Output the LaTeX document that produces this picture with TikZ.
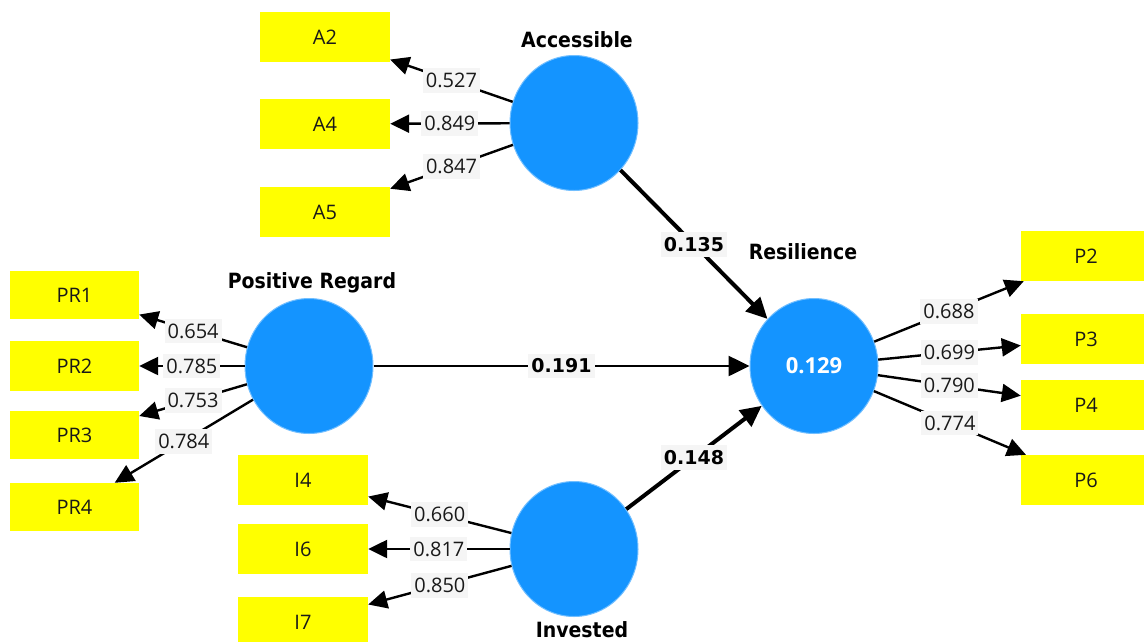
\documentclass[tikz,border=0pt]{standalone}
\usepackage{fontspec}
\setmainfont{Open Sans}
\newfontfamily\heavyfont{DejaVu Sans}
\newfontfamily\heavycondfont{DejaVu Sans Condensed}
\usetikzlibrary{shapes.geometric,arrows.meta}
\definecolor{lvblue}{RGB}{20,148,255}
\definecolor{mvyellow}{RGB}{255,255,0}
\definecolor{lblgray}{RGB}{245,245,245}
\definecolor{txtdark}{RGB}{25,25,25}
\begin{document}
\begin{tikzpicture}[x=1pt,y=-1pt,
  latent/.style={ellipse, fill=lvblue, draw=lvblue!60, line width=1pt,
    minimum width=128pt, minimum height=135pt, inner sep=0pt},
  indicator/.style={rectangle, fill=mvyellow, minimum width=130pt,
    minimum height=50pt, inner sep=0pt, text=txtdark,
    font=\fontsize{20}{24}\selectfont},
  loading/.style={line width=2.4pt, -{Triangle[length=19pt,width=18pt]}},
  pathcoef/.style={line width=4pt, -{Triangle[length=21pt,width=20pt]}},
  coef/.style={fill=lblgray, inner xsep=3pt, inner ysep=5pt, text=txtdark,
    font=\fontsize{20}{24}\selectfont},
  bcoef/.style={coef, text=black, font=\heavyfont\fontsize{19}{22}\selectfont\bfseries},
  lvtitle/.style={font=\heavycondfont\fontsize{21}{24}\selectfont\bfseries}
]
\clip (0,0) rectangle (1144,641);
\fill[white] (0,0) rectangle (1144,641);

% latent variables
\node[latent] (acc) at (574,123) {};
\node[latent] (pr)  at (309,366) {};
\node[latent] (res) at (814,366) {};
\node[latent] (inv) at (574,549) {};

\node[lvtitle] (accT) at (577,40)  {Accessible};
\node[lvtitle] (prT)  at (312,283) {Positive Regard};
\node[lvtitle] (resT) at (803,252) {Resilience};
\node[lvtitle] (invT) at (582,630) {Invested};
\node[text=white, font=\fontsize{22}{26}\selectfont\bfseries] (r2) at (res) {0.129};

% indicators
\node[indicator] (A2) at (325,37)  {A2};
\node[indicator] (A4) at (325,124) {A4};
\node[indicator] (A5) at (325,212) {A5};

\node[indicator, minimum width=129pt, minimum height=48pt] (PR1) at (74.5,295) {PR1};
\node[indicator, minimum width=129pt, minimum height=50pt] (PR2) at (74.5,366) {PR2};
\node[indicator, minimum width=129pt, minimum height=48pt] (PR3) at (74.5,435) {PR3};
\node[indicator, minimum width=129pt, minimum height=48pt] (PR4) at (74.5,507) {PR4};

\node[indicator] (P2) at (1086,256) {P2};
\node[indicator] (P3) at (1086,339) {P3};
\node[indicator] (P4) at (1086,405) {P4};
\node[indicator] (P6) at (1086,480) {P6};

\node[indicator] (I4) at (303,480) {I4};
\node[indicator] (I6) at (303,549) {I6};
\node[indicator] (I7) at (303,622) {I7};

% outer loadings
\draw[loading] (acc) -- node[coef] {0.527} (A2);
\draw[loading] (acc) -- node[coef] {0.849} (A4);
\draw[loading] (acc) -- node[coef] {0.847} (A5);

\draw[loading] (pr) -- node[coef] {0.654} (PR1);
\draw[loading] (pr) -- node[coef] {0.785} (PR2);
\draw[loading] (pr) -- node[coef] {0.753} (PR3);
\draw[loading] (pr) -- node[coef] {0.784} (PR4);

\draw[loading] (res) -- node[coef] {0.688} (P2);
\draw[loading] (res) -- node[coef] {0.699} (P3);
\draw[loading] (res) -- node[coef] {0.790} (P4);
\draw[loading] (res) -- node[coef] {0.774} (P6);

\draw[loading] (inv) -- node[coef] {0.660} (I4);
\draw[loading] (inv) -- node[coef] {0.817} (I6);
\draw[loading] (inv) -- node[coef] {0.850} (I7);

% structural paths
\draw[pathcoef] (acc) -- node[bcoef] {0.135} (res);
\draw[line width=2.6pt, -{Triangle[length=21pt,width=20pt]}] (pr) -- node[bcoef] {0.191} (res);
\draw[pathcoef] (inv) -- node[bcoef] {0.148} (res);
\end{tikzpicture}
\end{document}
